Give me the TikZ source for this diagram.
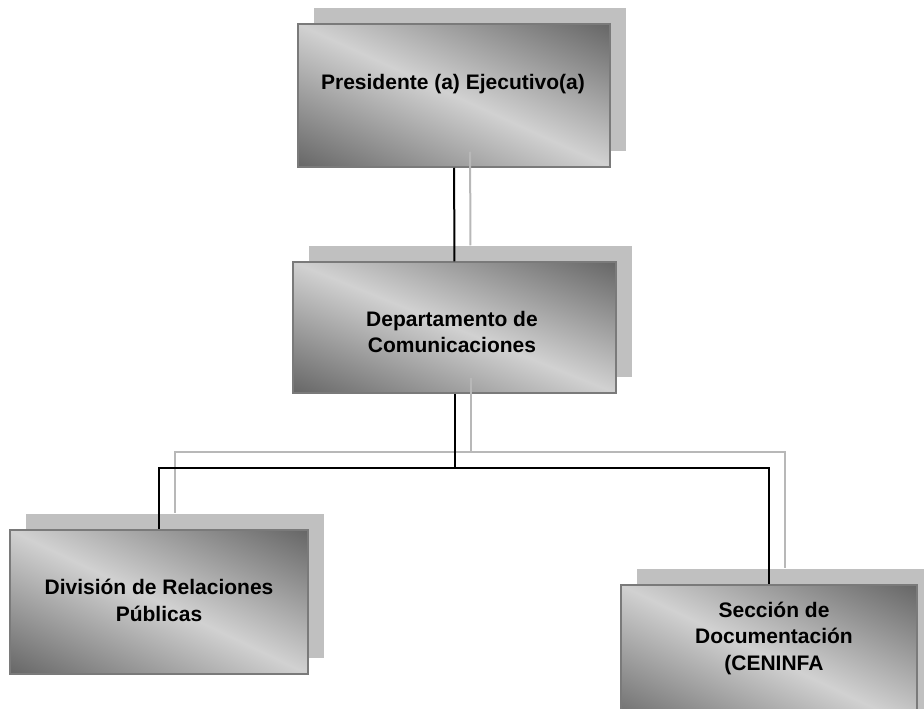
\documentclass[tikz,border=0pt]{standalone}
\usepackage{fontspec}
\setmainfont{Liberation Sans}
\usetikzlibrary{shadows}

\definecolor{boxedge}{HTML}{7A7A7A}
\definecolor{boxshadow}{HTML}{C0C0C0}
\definecolor{linkgray}{HTML}{B8B8B8}

% diagonal gradient: dark in the lower left and upper right corners
\pgfdeclarefunctionalshading{boxgrad}{\pgfpointorigin}{\pgfpoint{100bp}{100bp}}{}{
  add 100 div 1 sub abs 2 mul
  dup 1 gt {pop 1} if
  0.42 mul 0.82 exch sub
  dup dup
}

\tikzset{
  unitbox/.style={rectangle,draw=boxedge,line width=1.5pt,shade,shading=boxgrad,
    drop shadow={shadow xshift=16pt,shadow yshift=16pt,fill=boxshadow,opacity=1}},
  unittext/.style={align=center,font=\fontsize{21}{26.5}\selectfont\bfseries},
  link/.style={line width=2pt,black},
  linkshadow/.style={line width=2pt,linkgray,transform canvas={xshift=16pt,yshift=16pt}}
}

\begin{document}
\begin{tikzpicture}[x=1pt,y=1pt]
\useasboundingbox (0,0) rectangle (924,-709);
% boxes
\node[unitbox,minimum width=312pt,minimum height=143pt] (pres) at (454,-95.5) {};
\node[unitbox,minimum width=323pt,minimum height=131pt] (dept) at (454.5,-327.5) {};
\node[unitbox,minimum width=298pt,minimum height=144pt] (div) at (159,-602) {};
\node[unitbox,minimum width=296pt,minimum height=144pt] (sec) at (769,-657) {};
% texts
\node[unittext] (pres-txt) at (453,-84.5) {Presidente (a) Ejecutivo(a)};
\node[unittext] (dept-txt) at (452,-332) {Departamento de\\Comunicaciones};
\node[unittext] (div-txt) at (159,-600.5) {División de Relaciones\\Públicas};
\node[unittext] (sec-txt) at (774,-638) {Sección de\\Documentación\\(CENINFA};
\coordinate (fork) at (454.5,-468);
% connectors, shadow first
\draw[linkshadow] (pres) -- (dept);
\draw[linkshadow] (dept) -- (fork) -| (div);
\draw[linkshadow] (fork) -| (sec);
\draw[link] (pres) -- (dept);
\draw[link] (dept) -- (fork) -| (div);
\draw[link] (fork) -| (sec);
\end{tikzpicture}
\end{document}
